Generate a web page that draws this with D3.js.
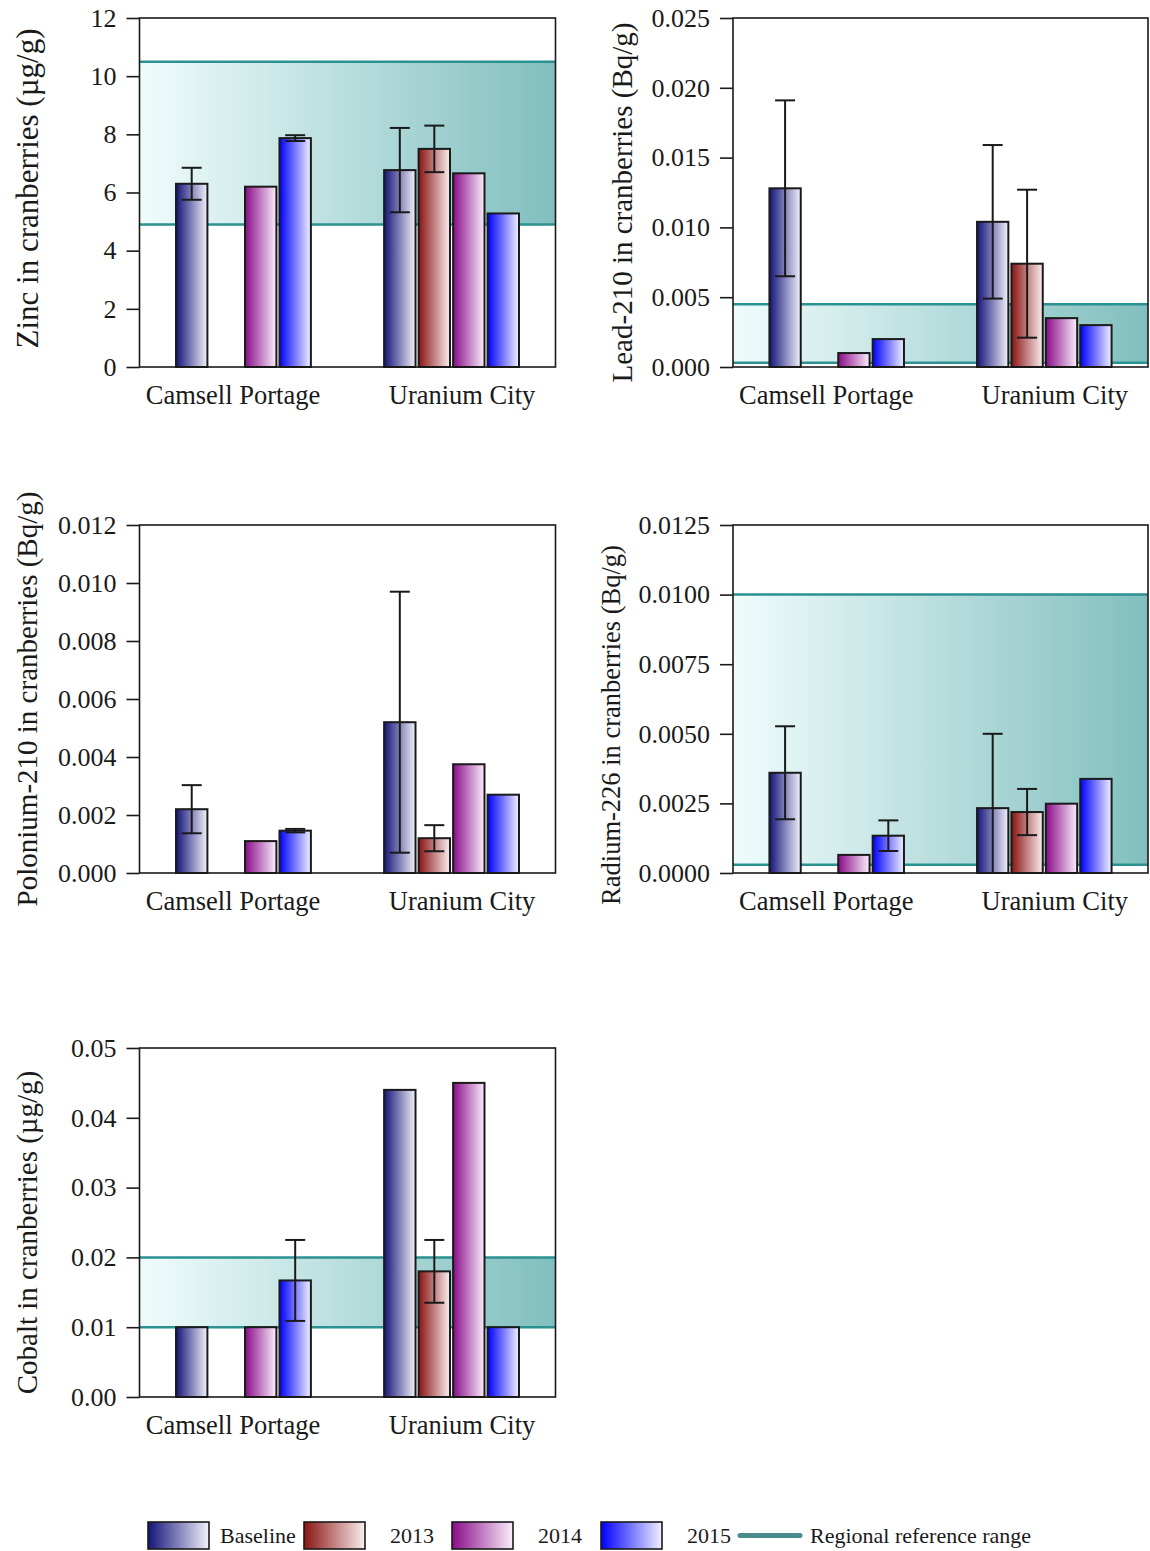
<!DOCTYPE html>
<html>
<head>
<meta charset="utf-8">
<script src="https://cdn.jsdelivr.net/npm/d3@7"></script>
<style>
  body { margin: 0; background: #fff; }
  text { font-family: "Liberation Serif", "Times New Roman", serif; fill: #1a1a1a; }
</style>
</head>
<body>
<svg id="chart" width="1150" height="1551"></svg>
<script>
// Sampling sites and survey periods
const sites = ["Camsell Portage", "Uranium City"];
const seriesNames = ["Baseline", "2013", "2014", "2015"];

// Zinc (µg/g): means and error half-widths, one entry per survey period
const zincCamsell = [6.30, null, 6.20, 7.87];
const zincCamsellErr = [0.55, null, null, 0.10];
const zincUranium = [6.77, 7.50, 6.66, 5.28];
const zincUraniumErr = [1.45, 0.80, null, null];
const zincRange = [4.9, 10.5];
const zincTicks = [0, 2, 4, 6, 8, 10, 12];

// Lead-210 (Bq/g)
const leadCamsell = [0.0128, null, 0.0010, 0.0020];
const leadCamsellErr = [0.0063, null, null, null];
const leadUranium = [0.0104, 0.0074, 0.0035, 0.0030];
const leadUraniumErr = [0.0055, 0.0053, null, null];
const leadRange = [0.0003, 0.0045];
const leadTicks = [0, 0.005, 0.010, 0.015, 0.020, 0.025];

// Polonium-210 (Bq/g)
const poloniumCamsell = [0.0022, null, 0.0011, 0.00146];
const poloniumCamsellErr = [0.00083, null, null, 0.00006];
const poloniumUranium = [0.0052, 0.0012, 0.00375, 0.0027];
const poloniumUraniumErr = [0.0045, 0.00045, null, null];
const poloniumTicks = [0, 0.002, 0.004, 0.006, 0.008, 0.010, 0.012];

// Radium-226 (Bq/g)
const radiumCamsell = [0.0036, null, 0.00065, 0.00134];
const radiumCamsellErr = [0.00167, null, null, 0.00055];
const radiumUranium = [0.00233, 0.00219, 0.00249, 0.00338];
const radiumUraniumErr = [0.00267, 0.00083, null, null];
const radiumRange = [0.0003, 0.0100];
const radiumTicks = [0, 0.0025, 0.0050, 0.0075, 0.0100, 0.0125];

// Cobalt (µg/g)
const cobaltCamsell = [0.010, null, 0.010, 0.0167];
const cobaltCamsellErr = [null, null, null, 0.0058];
const cobaltUranium = [0.044, 0.018, 0.045, 0.010];
const cobaltUraniumErr = [null, 0.0045, null, null];
const cobaltRange = [0.01, 0.02];
const cobaltTicks = [0, 0.01, 0.02, 0.03, 0.04, 0.05];

// Bar gradient end colours (dark on the left, pale on the right)
const darkColors = ["#141478", "#8a1414", "#880c88", "#0000ff"];
const lightColors = ["#f2f2fb", "#fbeeee", "#fbeefb", "#f0f0ff"];
const bandLine = "#2b9191";

const svg = d3.select("#chart");
const defs = svg.append("defs");

seriesNames.forEach((s, i) => {
  const lg = defs.append("linearGradient").attr("id", "barGrad" + i)
    .attr("x1", "0%").attr("x2", "100%").attr("y1", "0%").attr("y2", "0%");
  lg.append("stop").attr("offset", "0%").attr("stop-color", darkColors[i]);
  lg.append("stop").attr("offset", "100%").attr("stop-color", lightColors[i]);
});
const bg = defs.append("linearGradient").attr("id", "bandGrad")
  .attr("x1", "0%").attr("x2", "100%").attr("y1", "0%").attr("y2", "0%");
bg.append("stop").attr("offset", "0%").attr("stop-color", "#f0fcfc");
bg.append("stop").attr("offset", "100%").attr("stop-color", "#80bfbe");

function rows(valsA, errA, valsB, errB) {
  const out = [];
  [[valsA, errA], [valsB, errB]].forEach(([v, e], si) => {
    v.forEach((val, k) => {
      if (val != null) out.push({ site: sites[si], series: seriesNames[k], k, value: val, err: e[k] });
    });
  });
  return out;
}

const panels = [
  { x: 139.5, y: 18, w: 416, h: 349, title: "Zinc in cranberries (µg/g)",
    data: rows(zincCamsell, zincCamsellErr, zincUranium, zincUraniumErr),
    range: zincRange, ticks: zincTicks, fmt: "d", tSize: 31, tdx: -102, tdy: -4 },
  { x: 733, y: 18, w: 415, h: 349, title: "Lead-210 in cranberries (Bq/g)",
    data: rows(leadCamsell, leadCamsellErr, leadUranium, leadUraniumErr),
    range: leadRange, ticks: leadTicks, fmt: ".3f", tSize: 29, tdx: -101, tdy: 10 },
  { x: 139.5, y: 525, w: 416, h: 348, title: "Polonium-210 in cranberries (Bq/g)",
    data: rows(poloniumCamsell, poloniumCamsellErr, poloniumUranium, poloniumUraniumErr),
    range: null, ticks: poloniumTicks, fmt: ".3f", tSize: 29, tdx: -103, tdy: 0 },
  { x: 733, y: 525, w: 415, h: 348, title: "Radium-226 in cranberries (Bq/g)",
    data: rows(radiumCamsell, radiumCamsellErr, radiumUranium, radiumUraniumErr),
    range: radiumRange, ticks: radiumTicks, fmt: ".4f", tSize: 26.5, tdx: -113, tdy: 26 },
  { x: 139.5, y: 1048, w: 416, h: 349, title: "Cobalt in cranberries (µg/g)",
    data: rows(cobaltCamsell, cobaltCamsellErr, cobaltUranium, cobaltUraniumErr),
    range: cobaltRange, ticks: cobaltTicks, fmt: ".2f", tSize: 29, tdx: -103, tdy: 10 }
];

function drawPanel(p) {
  const g = svg.append("g").attr("transform", `translate(${p.x},${p.y})`);
  const w = p.w, h = p.h;
  const yMax = p.ticks[p.ticks.length - 1];
  const y = d3.scaleLinear().domain([0, yMax]).range([h, 0]);
  const x0 = d3.scaleBand().domain(sites).range([0, w]).paddingInner(0.337).paddingOuter(0.168);
  const x1 = d3.scaleBand().domain(seriesNames).range([0, x0.bandwidth()])
    .paddingInner(0.09).paddingOuter(0.045);
  const xLabel = d3.scalePoint().domain(sites).range([0, w]).padding(0.408);

  // Regional reference range band
  if (p.range) {
    g.append("rect").attr("x", 0).attr("width", w)
      .attr("y", y(p.range[1])).attr("height", y(p.range[0]) - y(p.range[1]))
      .attr("fill", "url(#bandGrad)");
    g.selectAll(".rline").data(p.range).enter().append("line")
      .attr("x1", 0).attr("x2", w).attr("y1", d => y(d)).attr("y2", d => y(d))
      .attr("stroke", bandLine).attr("stroke-width", 2.5);
  }

  // Bars
  g.selectAll(".bar").data(p.data).enter().append("rect")
    .attr("x", d => x0(d.site) + x1(d.series))
    .attr("width", x1.bandwidth())
    .attr("y", d => y(d.value))
    .attr("height", d => h - y(d.value))
    .attr("fill", d => `url(#barGrad${d.k})`)
    .attr("stroke", "#1a1a1a").attr("stroke-width", 2);

  // Error bars
  const capW = 20;
  const eb = g.selectAll(".err").data(p.data.filter(d => d.err != null)).enter().append("g")
    .attr("stroke", "#1a1a1a").attr("stroke-width", 2);
  eb.each(function(d) {
    const cx = x0(d.site) + x1(d.series) + x1.bandwidth() / 2;
    const hi = d.value + d.err, lo = Math.max(0, d.value - d.err);
    const s = d3.select(this);
    s.append("line").attr("x1", cx).attr("x2", cx).attr("y1", y(hi)).attr("y2", y(lo));
    s.append("line").attr("x1", cx - capW / 2).attr("x2", cx + capW / 2).attr("y1", y(hi)).attr("y2", y(hi));
    if (d.value - d.err > 0)
      s.append("line").attr("x1", cx - capW / 2).attr("x2", cx + capW / 2).attr("y1", y(lo)).attr("y2", y(lo));
  });

  // Frame
  g.append("rect").attr("x", 0).attr("y", 0).attr("width", w).attr("height", h)
    .attr("fill", "none").attr("stroke", "#1a1a1a").attr("stroke-width", 1.6);

  // Y axis
  const ax = g.append("g").call(d3.axisLeft(y).tickValues(p.ticks)
    .tickFormat(d3.format(p.fmt)).tickSize(13).tickPadding(10));
  ax.select(".domain").remove();
  ax.selectAll(".tick line").attr("stroke", "#1a1a1a").attr("stroke-width", 1.6);
  ax.selectAll(".tick text").attr("font-size", 26)
    .attr("font-family", "'Liberation Serif','Times New Roman',serif").attr("fill", "#1a1a1a");

  // Category labels
  g.selectAll(".cat").data(sites).enter().append("text")
    .attr("x", d => xLabel(d))
    .attr("y", h + 37)
    .attr("text-anchor", "middle")
    .attr("font-size", 26.5)
    .text(d => d);

  // Y axis title
  g.append("text")
    .attr("transform", `translate(${p.tdx},${h / 2 + p.tdy}) rotate(-90)`)
    .attr("text-anchor", "middle")
    .attr("font-size", p.tSize)
    .text(p.title);
}

panels.forEach(drawPanel);

// Legend
const legendItems = seriesNames.map((s, i) => ({ type: "bar", label: s, k: i }))
  .concat([{ type: "line", label: "Regional reference range" }]);
const legendX = [148, 304, 452, 601, 740];
const lg = svg.append("g").attr("transform", "translate(0,1522)");
legendItems.forEach((it, i) => {
  const gx = lg.append("g").attr("transform", `translate(${legendX[i]},0)`);
  let tx;
  if (it.type === "bar") {
    gx.append("rect").attr("x", 0).attr("y", 0).attr("width", 61).attr("height", 27)
      .attr("fill", `url(#barGrad${it.k})`).attr("stroke", "#1a1a1a").attr("stroke-width", 1.6);
    tx = it.k === 0 ? 72 : 86;
  } else {
    gx.append("line").attr("x1", 0).attr("x2", 60).attr("y1", 13.5).attr("y2", 13.5)
      .attr("stroke", "#4a8c8c").attr("stroke-width", 5).attr("stroke-linecap", "round");
    tx = 70;
  }
  gx.append("text").attr("x", tx).attr("y", 21).attr("font-size", 22).text(it.label);
});
</script>
</body>
</html>
